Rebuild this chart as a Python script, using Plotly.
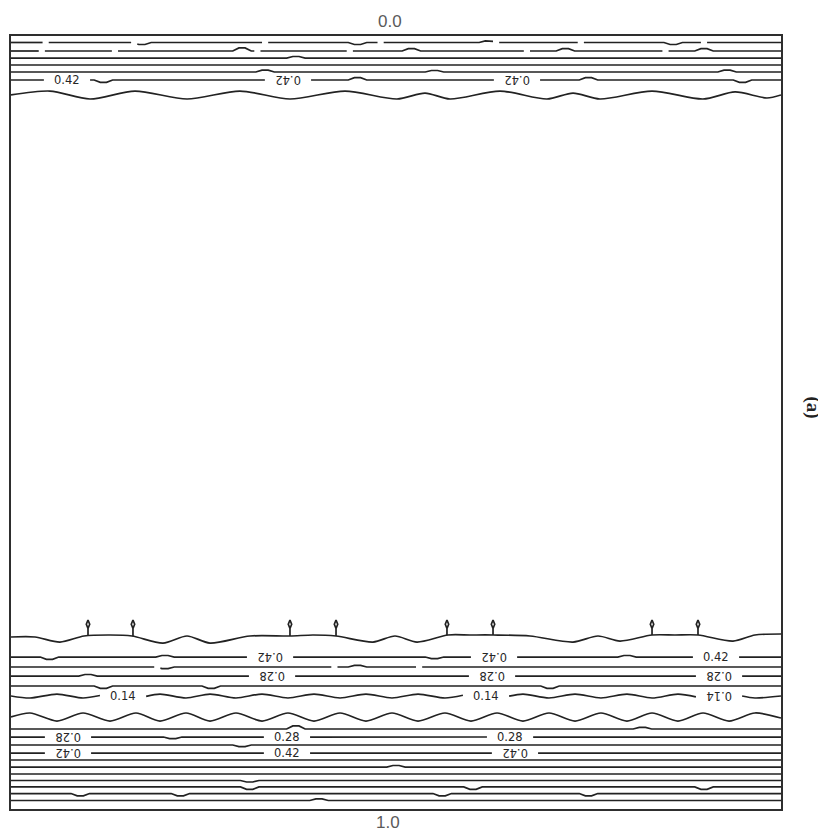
import numpy as np
import plotly.graph_objects as go

# ---------------- data ----------------
# x     : fraction of the section width (0 = left wall, 1 = right wall)
# depth : 0.0 (top) ... 1.0 (bottom)

# nearly straight contour lines
straight_depth = [0.0084, 0.0194, 0.0285, 0.0375, 0.0466, 0.0569,
                  0.8034, 0.8163, 0.8280, 0.8409,
                  0.8965, 0.9069, 0.9172, 0.9276, 0.9366, 0.9457,
                  0.9547, 0.9631, 0.9715, 0.9800, 0.9890]
# small kinks on each line: (x, depth offset)
straight_bumps = [
    [(0.17, 0.0026), (0.45, 0.0026), (0.62, -0.0020), (0.86, 0.0026)],
    [(0.30, -0.0040), (0.52, -0.0030), (0.72, -0.0030), (0.90, -0.0030)],
    [(0.37, -0.0020)],
    [],
    [(0.33, -0.0025), (0.55, -0.0020), (0.93, -0.0025)],
    [(0.12, 0.0030), (0.45, -0.0030), (0.75, -0.0030), (0.95, 0.0030)],
    [(0.05, 0.0030), (0.20, -0.0020), (0.55, 0.0020), (0.80, -0.0020)],
    [(0.20, 0.0020), (0.45, -0.0020)],
    [(0.10, -0.0020)],
    [(0.12, 0.0030), (0.26, 0.0030), (0.70, 0.0030)],
    [(0.37, -0.0040), (0.82, -0.0020)],
    [(0.21, 0.0020), (0.63, -0.0020)],
    [(0.30, 0.0020)],
    [],
    [],
    [(0.50, -0.0020)],
    [],
    [(0.31, 0.0020)],
    [(0.31, 0.0030), (0.60, 0.0030), (0.90, 0.0030)],
    [(0.09, 0.0030), (0.22, 0.0030), (0.56, 0.0030), (0.75, 0.0030)],
    [(0.40, -0.0020)],
]
# small pen breaks on each line (x of the break)
straight_breaks = [
    [0.045, 0.16, 0.33, 0.48, 0.63, 0.74, 0.90],
    [0.04, 0.135, 0.32, 0.44, 0.67, 0.85],
    [], [], [], [],
    [], [0.19, 0.42, 0.53], [], [],
    [], [], [], [], [], [], [], [], [], [], [],
]

# wavy line below the upper group
top_wave_x = [0.0, 0.0506, 0.1026, 0.1610, 0.2286, 0.2974, 0.3623, 0.4338, 0.5013, 0.5377,
              0.5701, 0.6351, 0.6961, 0.7299, 0.7649, 0.8325, 0.8987, 0.9403, 0.9818, 1.0]
top_wave_depth = [0.0763, 0.0712, 0.0815, 0.0712, 0.0815, 0.0712, 0.0815, 0.0712, 0.0815, 0.0738,
                  0.0815, 0.0712, 0.0815, 0.0738, 0.0815, 0.0712, 0.0815, 0.0724, 0.0802, 0.0763]

# upper line of the lower group, with the small closed cells (spikes)
spike_line_x = [0.0, 0.0312, 0.0636, 0.0948, 0.1286, 0.1571, 0.1974, 0.2286, 0.2584, 0.3104,
                0.3623, 0.3922, 0.4221, 0.4701, 0.4987, 0.5273, 0.5675, 0.5961, 0.6260, 0.6740,
                0.7299, 0.7623, 0.7909, 0.8325, 0.8623, 0.8922, 0.9377, 0.9662, 1.0]
spike_line_depth = [0.7775, 0.7775, 0.7840, 0.7762, 0.7749, 0.7762, 0.7853, 0.7762, 0.7853, 0.7762,
                     0.7762, 0.7749, 0.7762, 0.7840, 0.7762, 0.7840, 0.7749, 0.7749, 0.7749, 0.7762,
                     0.7840, 0.7762, 0.7827, 0.7749, 0.7749, 0.7749, 0.7827, 0.7749, 0.7736]
spike_x = [0.1000, 0.1584, 0.3623, 0.4221, 0.5662, 0.6260, 0.8325, 0.8922]
spike_top_depth = 0.7555

# 0.14 line (gently wavy)
mid_wave_x = [0.0, 0.0247, 0.0597, 0.0935, 0.1286, 0.1623, 0.1935, 0.2273, 0.2584, 0.2922,
              0.3260, 0.3597, 0.3935, 0.4273, 0.4610, 0.4948, 0.5286, 0.5636, 0.5974, 0.6312,
              0.6649, 0.6987, 0.7325, 0.7662, 0.8000, 0.8325, 0.8662, 0.8987, 0.9325, 0.9662, 1.0]
mid_wave_depth = [0.8538, 0.8564, 0.8513, 0.8564, 0.8513, 0.8564, 0.8513, 0.8564, 0.8513, 0.8564,
                  0.8513, 0.8564, 0.8513, 0.8564, 0.8513, 0.8564, 0.8513, 0.8564, 0.8513, 0.8564,
                  0.8513, 0.8564, 0.8513, 0.8564, 0.8513, 0.8564, 0.8513, 0.8564, 0.8513, 0.8564, 0.8538]

# wavy line in the middle of the lower group
low_wave_x = [0.0, 0.0247, 0.0597, 0.0935, 0.1286, 0.1623, 0.1935, 0.2273, 0.2584, 0.2922,
              0.3260, 0.3597, 0.3935, 0.4273, 0.4610, 0.4948, 0.5286, 0.5636, 0.5974, 0.6312,
              0.6649, 0.6987, 0.7325, 0.7662, 0.8000, 0.8325, 0.8662, 0.8987, 0.9325, 0.9662, 1.0]
low_wave_depth = [0.8810, 0.8758, 0.8862, 0.8758, 0.8862, 0.8758, 0.8862, 0.8758, 0.8862, 0.8758,
                  0.8862, 0.8758, 0.8862, 0.8758, 0.8862, 0.8758, 0.8862, 0.8758, 0.8862, 0.8758,
                  0.8862, 0.8758, 0.8862, 0.8758, 0.8862, 0.8758, 0.8862, 0.8758, 0.8862, 0.8758, 0.8823]

# contour labels
label_text = ["0.42", "0.42", "0.42",
              "0.42", "0.42", "0.42",
              "0.28", "0.28", "0.28",
              "0.14", "0.14", "0.14",
              "0.28", "0.28", "0.28",
              "0.42", "0.42", "0.42"]
label_x = [0.0727, 0.3597, 0.6571,
           0.3364, 0.6273, 0.9156,
           0.3390, 0.6247, 0.9195,
           0.1455, 0.6169, 0.9195,
           0.0740, 0.3584, 0.6481,
           0.0740, 0.3584, 0.6545]
label_depth = [0.0569, 0.0569, 0.0569,
               0.8034, 0.8034, 0.8034,
               0.8280, 0.8280, 0.8280,
               0.8538, 0.8538, 0.8538,
               0.9069, 0.9069, 0.9069,
               0.9276, 0.9276, 0.9276]
label_flip = [False, True, True,
              True, True, False,
              True, True, True,
              False, False, True,
              True, False, False,
              True, False, True]

depth_top_label = "0.0"
depth_bottom_label = "1.0"
panel_label = "(a)"

# ---------------- construction ----------------
LINE = dict(color="#222222", width=1.7)
BUMP_W = 0.012
BREAK_HALF = 0.004
GAP_HALF = 0.03

lines = []  # [vx, vy, gaps, smooth]
for d, bumps, brks in zip(straight_depth, straight_bumps, straight_breaks):
    vx, vy = [0.0], [d]
    for bx, bd in sorted(bumps):
        vx += [bx - BUMP_W, bx - BUMP_W / 3, bx + BUMP_W / 3, bx + BUMP_W]
        vy += [d, d + bd, d + bd, d]
    vx.append(1.0)
    vy.append(d)
    lines.append([vx, vy, [(b - BREAK_HALF, b + BREAK_HALF) for b in brks], False])
lines.append([top_wave_x, top_wave_depth, [], True])
lines.append([spike_line_x, spike_line_depth, [], True])
lines.append([mid_wave_x, mid_wave_depth, [], True])
lines.append([low_wave_x, low_wave_depth, [], True])

# cut the gaps where labels sit
for lx, ld in zip(label_x, label_depth):
    best = min(lines, key=lambda L: abs(np.mean(L[1]) - ld))
    best[2].append((lx - GAP_HALF, lx + GAP_HALF))


def polyline(vx, vy, gaps):
    gaps = sorted((max(g0, 0.0), min(g1, 1.0)) for g0, g1 in gaps)
    pts = [x for x in vx if not any(g0 < x < g1 for g0, g1 in gaps)]
    pts = sorted(set(pts + [g for gg in gaps for g in gg]))
    xs, ys = [], []
    for x in pts:
        xs.append(x)
        ys.append(float(np.interp(x, vx, vy)))
        if any(abs(x - g0) < 1e-12 for g0, _ in gaps):
            xs.append(None)
            ys.append(None)
    return xs, ys


fig = go.Figure()
for vx, vy, gaps, smooth in lines:
    xs, ys = polyline(vx, vy, gaps)
    fig.add_trace(go.Scatter(
        x=xs, y=ys, mode="lines",
        line=dict(LINE, shape="spline" if smooth else "linear", smoothing=0.8),
        hoverinfo="skip", showlegend=False))

# the little closed cells sitting on the upper line of the lower group
LOOP_W = 0.0022
LOOP_H = 0.011
sx_all, sy_all = [], []
for sx in spike_x:
    base = float(np.interp(sx, spike_line_x, spike_line_depth))
    t = spike_top_depth
    sx_all += [sx, sx, sx - LOOP_W, sx, sx + LOOP_W, sx, None]
    sy_all += [base, t + LOOP_H, t + LOOP_H / 2, t, t + LOOP_H / 2, t + LOOP_H, None]
fig.add_trace(go.Scatter(x=sx_all, y=sy_all, mode="lines", line=LINE,
                         hoverinfo="skip", showlegend=False))

annotations = []
for txt, lx, ld, fl in zip(label_text, label_x, label_depth, label_flip):
    annotations.append(dict(
        x=lx, y=ld, xref="x", yref="y", text=txt, showarrow=False,
        xanchor="center", yanchor="middle",
        textangle=180 if fl else 0,
        font=dict(family="DejaVu Sans, Liberation Sans, sans-serif", size=11.5, color="#262626")))

annotations.append(dict(x=0.492, y=1, xref="x", yref="paper", text=depth_top_label,
                        showarrow=False, xanchor="center", yanchor="bottom", yshift=3,
                        font=dict(family="Liberation Sans, Arial, sans-serif", size=17, color="#5a5a5a")))
annotations.append(dict(x=0.49, y=0, xref="x", yref="paper", text=depth_bottom_label,
                        showarrow=False, xanchor="center", yanchor="top", yshift=-2,
                        font=dict(family="Liberation Sans, Arial, sans-serif", size=17, color="#5a5a5a")))
annotations.append(dict(x=1.041, y=0.52, xref="paper", yref="paper", text="<b>" + panel_label + "</b>",
                        showarrow=False, textangle=90, xanchor="center", yanchor="middle",
                        font=dict(family="Liberation Serif, DejaVu Serif, serif", size=19, color="#222")))

# the page adds an 8 px body margin, so the figure is sized to fit inside the window
fig.update_layout(
    width=816, height=826,
    margin=dict(l=3, r=43, t=28, b=25),
    paper_bgcolor="white", plot_bgcolor="white",
    annotations=annotations,
    xaxis=dict(range=[0, 1], showgrid=False, zeroline=False, showticklabels=False, ticks="",
               showline=True, mirror=True, linecolor="#2e2e2e", linewidth=1.5),
    yaxis=dict(range=[1, 0], showgrid=False, zeroline=False, showticklabels=False, ticks="",
               showline=True, mirror=True, linecolor="#2e2e2e", linewidth=1.5),
)

fig.write_html("out.html")
